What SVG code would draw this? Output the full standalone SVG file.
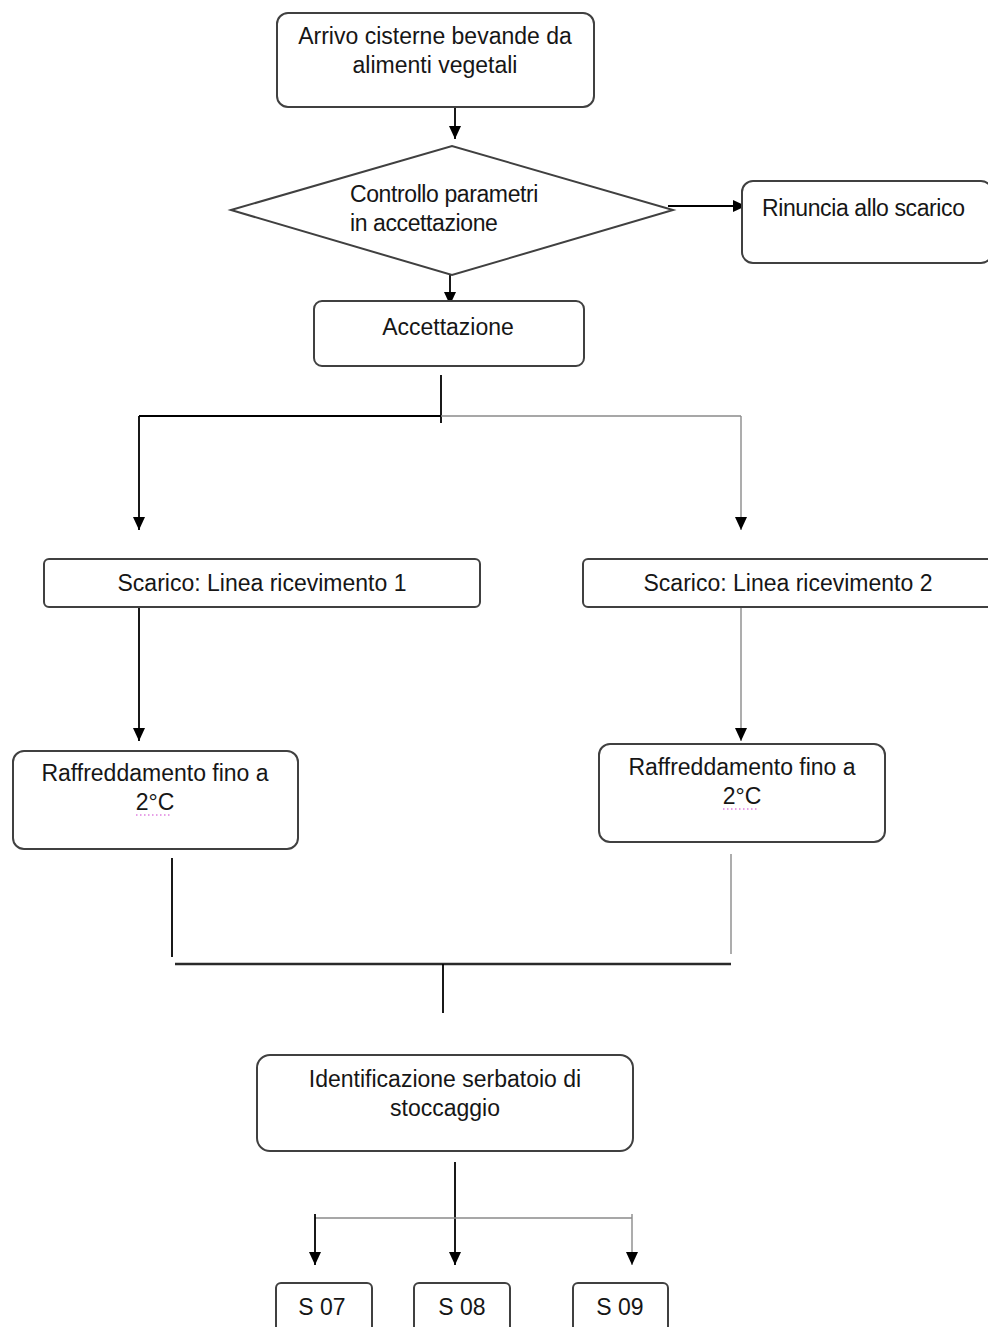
<svg xmlns="http://www.w3.org/2000/svg" width="988" height="1327" viewBox="0 0 988 1327">
<style>
.box{fill:#fff;stroke:#404040;stroke-width:2}
.t{font-family:"Liberation Sans",Arial,sans-serif;font-size:23px;fill:#161616}
.c{text-anchor:middle}
.n{letter-spacing:-0.4px}
.blk{stroke:#000;stroke-width:1.8;fill:none}
.gry{stroke:#8a8a8a;stroke-width:1.4;fill:none}
.thk{stroke:#2a2a2a;stroke-width:2.6;fill:none}
.sq{stroke:#d040d0;stroke-width:1.2;stroke-dasharray:1.5 2.5;fill:none}
</style>
<defs>
<marker id="ah" markerUnits="userSpaceOnUse" markerWidth="13" markerHeight="13" viewBox="0 0 13 13" refX="13" refY="6.5" orient="auto">
<path d="M0,0.5 L13,6.5 L0,12.5 z" fill="#000"/>
</marker>
</defs>

<g id="connectors">
<line class="blk" x1="455" y1="107" x2="455" y2="139" marker-end="url(#ah)"/>
<line class="blk" x1="668" y1="206" x2="746" y2="206" marker-end="url(#ah)"/>
<line class="blk" x1="450" y1="275" x2="450" y2="305" marker-end="url(#ah)"/>
<line class="blk" x1="441" y1="375" x2="441" y2="423"/>
<line class="blk" x1="139" y1="416" x2="441" y2="416"/>
<line class="gry" x1="441" y1="416" x2="741" y2="416"/>
<line class="blk" x1="139" y1="416" x2="139" y2="530" marker-end="url(#ah)"/>
<line class="gry" x1="741" y1="416" x2="741" y2="530" marker-end="url(#ah)"/>
<line class="blk" x1="139" y1="607" x2="139" y2="741" marker-end="url(#ah)"/>
<line class="gry" x1="741" y1="607" x2="741" y2="741" marker-end="url(#ah)"/>
<line class="blk" x1="172" y1="858" x2="172" y2="957"/>
<line class="gry" x1="731" y1="854" x2="731" y2="954"/>
<line class="thk" x1="175" y1="964" x2="731" y2="964"/>
<line class="blk" x1="443" y1="964" x2="443" y2="1013"/>
<line class="blk" x1="455" y1="1162" x2="455" y2="1265" marker-end="url(#ah)"/>
<line class="gry" x1="315" y1="1218" x2="632" y2="1218"/>
<line class="blk" x1="315" y1="1214" x2="315" y2="1265" marker-end="url(#ah)"/>
<line class="gry" x1="632" y1="1214" x2="632" y2="1265" marker-end="url(#ah)"/>
</g>

<g id="arrivo">
<rect class="box" x="277" y="13" width="317" height="94" rx="11"/>
<text class="t c" x="435" y="44">Arrivo cisterne bevande da</text>
<text class="t c" x="435" y="73">alimenti vegetali</text>
</g>

<g id="controllo">
<polygon class="box" points="231,210 452,146 673,210 452,275"/>
<text class="t n" x="350" y="202">Controllo parametri</text>
<text class="t n" x="350" y="231">in accettazione</text>
</g>

<g id="rinuncia">
<rect class="box" x="742" y="181" width="250" height="82" rx="11"/>
<text class="t n" x="762" y="216">Rinuncia allo scarico</text>
</g>

<g id="accettazione">
<rect class="box" x="314" y="301" width="270" height="65" rx="8"/>
<text class="t c" x="448" y="335">Accettazione</text>
</g>

<g id="scarico1">
<rect class="box" x="44" y="559" width="436" height="48" rx="5"/>
<text class="t c" x="262" y="591">Scarico: Linea ricevimento 1</text>
</g>

<g id="scarico2">
<rect class="box" x="583" y="559" width="420" height="48" rx="5"/>
<text class="t c" x="788" y="591">Scarico: Linea ricevimento 2</text>
</g>

<g id="raffreddamento1">
<rect class="box" x="13" y="751" width="285" height="98" rx="11"/>
<text class="t c" x="155" y="781">Raffreddamento fino a</text>
<text class="t c" x="155" y="810">2°C</text>
<line class="sq" x1="136" y1="815" x2="171" y2="815"/>
</g>

<g id="raffreddamento2">
<rect class="box" x="599" y="744" width="286" height="98" rx="11"/>
<text class="t c" x="742" y="775">Raffreddamento fino a</text>
<text class="t c" x="742" y="804">2°C</text>
<line class="sq" x1="723" y1="809" x2="758" y2="809"/>
</g>

<g id="identificazione">
<rect class="box" x="257" y="1055" width="376" height="96" rx="13"/>
<text class="t c" x="445" y="1087">Identificazione serbatoio di</text>
<text class="t c" x="445" y="1116">stoccaggio</text>
</g>

<g id="s07">
<rect class="box" x="276" y="1283" width="96" height="60" rx="5"/>
<text class="t c" x="322" y="1315">S 07</text>
</g>

<g id="s08">
<rect class="box" x="414" y="1283" width="96" height="60" rx="5"/>
<text class="t c" x="462" y="1315">S 08</text>
</g>

<g id="s09">
<rect class="box" x="573" y="1283" width="95" height="60" rx="5"/>
<text class="t c" x="620" y="1315">S 09</text>
</g>
</svg>
